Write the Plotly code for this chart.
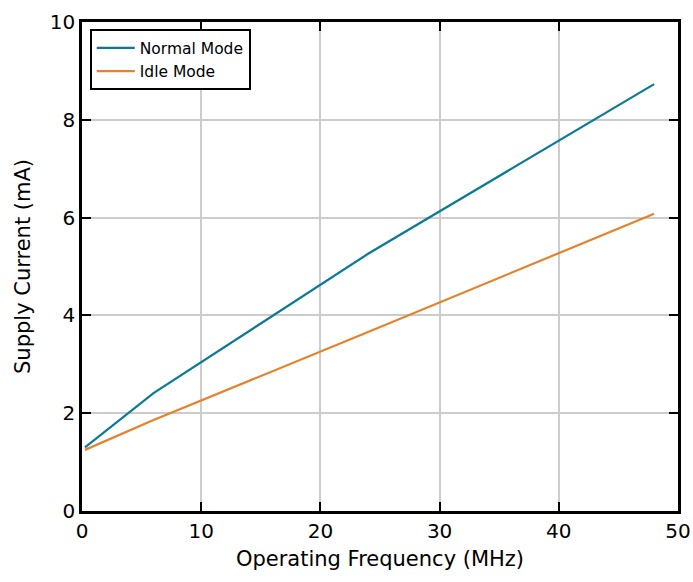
import plotly.graph_objects as go

freq_normal = [0.25, 6, 24, 48]
current_normal = [1.30, 2.41, 5.26, 8.73]
freq_idle = [0.25, 6, 24, 48]
current_idle = [1.25, 1.86, 3.66, 6.08]

x_ticks = [0, 10, 20, 30, 40, 50]
y_ticks = [0, 2, 4, 6, 8, 10]

fig = go.Figure()
fig.add_trace(go.Scatter(x=freq_normal, y=current_normal, mode="lines", name="Normal Mode",
                         line=dict(color="#0b7a95", width=2.2)))
fig.add_trace(go.Scatter(x=freq_idle, y=current_idle, mode="lines", name="Idle Mode",
                         line=dict(color="#e5832d", width=2.2)))

axis_common = dict(
    showline=True, linecolor="black", linewidth=2.6, mirror="allticks",
    ticks="inside", ticklen=9, tickwidth=1.5, tickcolor="black",
    showgrid=True, gridcolor="#cccccc", gridwidth=2, zeroline=False,
    tickfont=dict(family="DejaVu Sans", size=20, color="black"),
    automargin=False,
)

fig.update_xaxes(range=[0, 50], tickvals=x_ticks,
                 title=dict(text="Operating Frequency (MHz)", font=dict(family="DejaVu Sans", size=21, color="black"), standoff=10),
                 **axis_common)
fig.update_yaxes(range=[0, 10], tickvals=y_ticks,
                 title=dict(text="Supply Current (mA)", font=dict(family="DejaVu Sans", size=21, color="black"), standoff=14),
                 **axis_common)

fig.update_layout(
    width=693, height=582,
    margin=dict(l=82, r=15, t=22, b=71),
    plot_bgcolor="white", paper_bgcolor="white",
    font=dict(family="DejaVu Sans", color="black"),
    legend=dict(x=0.013, y=0.985, xanchor="left", yanchor="top",
                bordercolor="black", borderwidth=2, bgcolor="white",
                font=dict(family="DejaVu Sans", size=15.5, color="black"),
                itemwidth=38, tracegroupgap=0),
    showlegend=True,
)

fig.write_html("out.html",
               config={"displayModeBar": False},
               post_script="document.body.style.margin='0';document.body.style.overflow='hidden';")
